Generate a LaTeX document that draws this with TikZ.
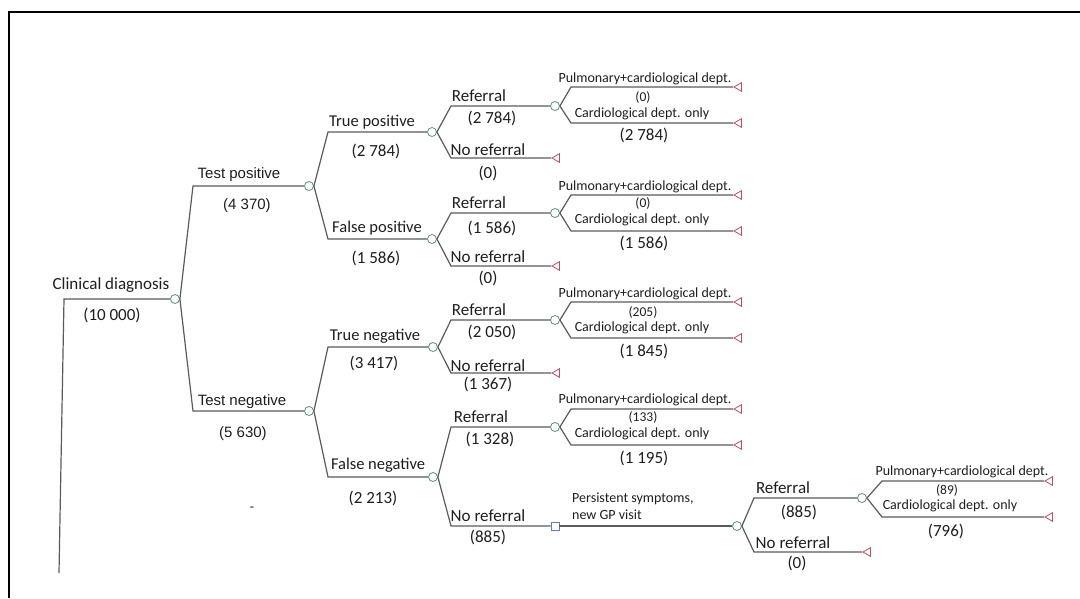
\documentclass[tikz,border=0pt]{standalone}
\usepackage{fontspec}
\setmainfont{Carlito}
\newfontfamily\arialf{Liberation Sans}
\usetikzlibrary{shapes.geometric}
\definecolor{lc}{HTML}{5A5A5A}
\definecolor{cc}{HTML}{5E8F80}
\definecolor{tc}{HTML}{C04A5E}
\definecolor{sc}{HTML}{5F7FB0}
\definecolor{txt}{HTML}{1E1E1E}
\tikzset{
  br/.style={draw=lc, line width=1.2pt},
  chance/.style={circle, draw=cc, fill=white, line width=0.8pt, minimum size=9pt, inner sep=0pt},
  term/.style={regular polygon, regular polygon sides=3, shape border rotate=90, draw=tc, fill=white, line width=0.8pt, minimum size=10pt, inner sep=0pt},
  dec/.style={rectangle, draw=sc, fill=white, line width=0.8pt, minimum size=8pt, inner sep=0pt},
  big/.style={font=\fontsize{17}{20}\selectfont, text=txt, inner sep=0pt, text height=11pt, text depth=0pt},
  mid/.style={font=\fontsize{16.5}{20}\selectfont, text=txt, inner sep=0pt, text height=10.6pt, text depth=0pt},
  ar/.style={font=\arialf\fontsize{15}{18}\selectfont, text=txt, inner sep=0pt, text height=10.8pt, text depth=0pt},
  sm/.style={font=\fontsize{14}{16}\selectfont, text=txt, inner sep=0pt, text height=9pt, text depth=0pt},
  smc/.style={font=\fontsize{13.5}{16}\selectfont, text=txt, inner sep=0pt, text height=8.7pt, text depth=0pt},
}
\begin{document}
\begin{tikzpicture}[x=1pt,y=-1pt]
\useasboundingbox (0,0) rectangle (1080,598);
\draw[black, line width=1.3pt] (9,598) -- (9,12) -- (1080,12);

% root
\coordinate (rb) at (59,573);
\coordinate (ra) at (64,299);
\node[chance] (c0) at (175,299) {};
\draw[br] (rb) -- (ra) -- (c0);
\node[big] (l0a) at (111,284) {Clinical diagnosis};
\node[big] (l0b) at (112,315) {(10 000)};

% level 1
\coordinate (b1) at (193,186);
\node[chance] (c1) at (309,186) {};
\draw[br] (c0.east) -- (b1) -- (c1);
\node[ar] (l1a) at (239,173) {Test positive};
\node[ar] (l1b) at (247,204) {(4 370)};

\coordinate (b2) at (193,411);
\node[chance] (c2) at (309,411) {};
\draw[br] (c0.east) -- (b2) -- (c2);
\node[ar] (l2a) at (242,400) {Test negative};
\node[ar] (l2b) at (243,432) {(5 630)};
\node[sm] (dash) at (252,507) {-};

% level 2
\coordinate (b11) at (328,132);
\node[chance] (c11) at (432,132) {};
\draw[br] (c1.east) -- (b11) -- (c11);
\node[mid] at (372,121) {True positive};
\node[big] at (376,151) {(2 784)};

\coordinate (b12) at (328,239);
\node[chance] (c12) at (432,239) {};
\draw[br] (c1.east) -- (b12) -- (c12);
\node[mid] at (377,227) {False positive};
\node[big] at (376,258) {(1 586)};

\coordinate (b21) at (328,347);
\node[chance] (c21) at (433,347) {};
\draw[br] (c2.east) -- (b21) -- (c21);
\node[mid] at (375,335) {True negative};
\node[big] at (374,363) {(3 417)};

\coordinate (b22) at (328,477);
\node[chance] (c22) at (433,477) {};
\draw[br] (c2.east) -- (b22) -- (c22);
\node[mid] at (378,464) {False negative};
\node[big] at (373,498) {(2 213)};

% level 3
% c11
\coordinate (b111) at (451,106);
\node[chance] (c111) at (555,106) {};
\draw[br] (c11.east) -- (b111) -- (c111);
\node[big] at (479,96) {Referral};
\node[big] at (492,118) {(2 784)};
\coordinate (b112) at (451,158);
\node[term] (t112) at (557,158) {};
\draw[br] (c11.east) -- (b112) -- (t112);
\node[big] at (488,150) {No referral};
\node[big] at (488,173) {(0)};
% c12
\coordinate (b121) at (451,213);
\node[chance] (c121) at (555,213) {};
\draw[br] (c12.east) -- (b121) -- (c121);
\node[big] at (479,203) {Referral};
\node[big] at (492,228) {(1 586)};
\coordinate (b122) at (451,266);
\node[term] (t122) at (557,266) {};
\draw[br] (c12.east) -- (b122) -- (t122);
\node[big] at (488,257) {No referral};
\node[big] at (488,278) {(0)};
% c21
\coordinate (b211) at (451,320);
\node[chance] (c211) at (555,320) {};
\draw[br] (c21.east) -- (b211) -- (c211);
\node[big] at (479,310) {Referral};
\node[big] at (492,332) {(2 050)};
\coordinate (b212) at (451,373);
\node[term] (t212) at (557,373) {};
\draw[br] (c21.east) -- (b212) -- (t212);
\node[big] at (488,366) {No referral};
\node[big] at (488,384) {(1 367)};
% c22
\coordinate (b221) at (451,427);
\node[chance] (c221) at (555,427) {};
\draw[br] (c22.east) -- (b221) -- (c221);
\node[big] at (481,417) {Referral};
\node[big] at (490,439) {(1 328)};
\coordinate (b222) at (451,526);
\node[dec] (s222) at (555,526) {};
\draw[br] (c22.east) -- (b222) -- (s222);
\node[big] at (488,516) {No referral};
\node[big] at (488,537) {(885)};

% level 4
% c111
\coordinate (p111) at (571,87);
\node[term] (tp111) at (739,87) {};
\draw[br] (c111.east) -- (p111) -- (tp111);
\coordinate (q111) at (571,123);
\node[term] (tq111) at (739,123) {};
\draw[br] (c111.east) -- (q111) -- (tq111);
\node[sm] at (645,78) {Pulmonary+cardiological dept.};
\node[smc] at (643,97) {(0)};
\node[sm] at (642,113) {Cardiological dept. only};
\node[big] at (644,135) {(2 784)};
% c121
\coordinate (p121) at (571,195);
\node[term] (tp121) at (739,195) {};
\draw[br] (c121.east) -- (p121) -- (tp121);
\coordinate (q121) at (571,231);
\node[term] (tq121) at (739,231) {};
\draw[br] (c121.east) -- (q121) -- (tq121);
\node[sm] at (645,186) {Pulmonary+cardiological dept.};
\node[smc] at (643,203) {(0)};
\node[sm] at (642,219) {Cardiological dept. only};
\node[big] at (644,243) {(1 586)};
% c211
\coordinate (p211) at (571,302);
\node[term] (tp211) at (739,302) {};
\draw[br] (c211.east) -- (p211) -- (tp211);
\coordinate (q211) at (571,338);
\node[term] (tq211) at (739,338) {};
\draw[br] (c211.east) -- (q211) -- (tq211);
\node[sm] at (645,293) {Pulmonary+cardiological dept.};
\node[smc] at (643,312) {(205)};
\node[sm] at (642,327) {Cardiological dept. only};
\node[big] at (644,351) {(1 845)};
% c221
\coordinate (p221) at (571,409);
\node[term] (tp221) at (739,409) {};
\draw[br] (c221.east) -- (p221) -- (tp221);
\coordinate (q221) at (571,445);
\node[term] (tq221) at (739,445) {};
\draw[br] (c221.east) -- (q221) -- (tq221);
\node[sm] at (645,399) {Pulmonary+cardiological dept.};
\node[smc] at (643,417) {(133)};
\node[sm] at (642,433) {Cardiological dept. only};
\node[big] at (644,458) {(1 195)};

% persistent symptoms
\node[chance] (c3) at (737,526) {};
\draw[br] (s222) -- (c3);
\node[sm, anchor=west] at (572,498) {Persistent symptoms,};
\node[sm, anchor=west] at (572,515) {new GP visit};

\coordinate (b31) at (754,498);
\node[chance] (c31) at (862,498) {};
\draw[br] (c3.east) -- (b31) -- (c31);
\node[big] at (783,488) {Referral};
\node[big] at (799,512) {(885)};
\coordinate (b32) at (754,552);
\node[term] (t32) at (868,552) {};
\draw[br] (c3.east) -- (b32) -- (t32);
\node[big] at (793,543) {No referral};
\node[big] at (797,563) {(0)};

\coordinate (p31) at (882,481);
\node[term] (tp31) at (1050,481) {};
\draw[br] (c31.east) -- (p31) -- (tp31);
\coordinate (q31) at (882,517);
\node[term] (tq31) at (1050,517) {};
\draw[br] (c31.east) -- (q31) -- (tq31);
\node[sm] at (962,471) {Pulmonary+cardiological dept.};
\node[smc] at (947,490) {(89)};
\node[sm] at (950,505) {Cardiological dept. only};
\node[big] at (946,531) {(796)};
\end{tikzpicture}
\end{document}
